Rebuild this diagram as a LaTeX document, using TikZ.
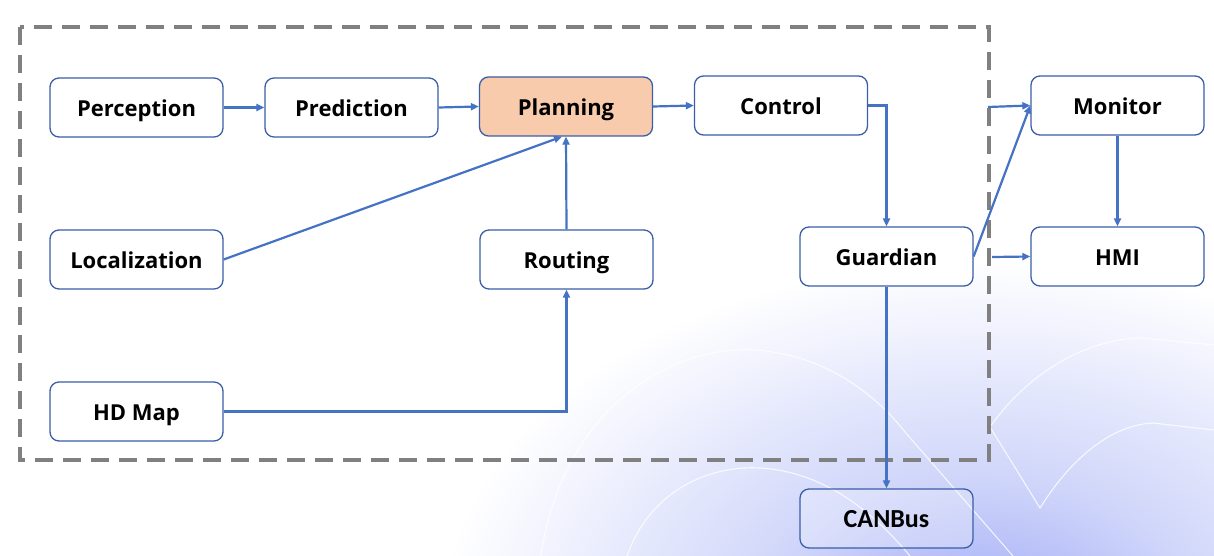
\documentclass[tikz,border=0pt]{standalone}
\usepackage{fontspec}
\setmainfont{Open Sans}
\newfontfamily\canfont{Carlito}
\usetikzlibrary{arrows.meta,calc}
\definecolor{arrowblue}{HTML}{4472C4}
\definecolor{boxblue}{HTML}{3A5EA8}
\definecolor{planfill}{HTML}{F8CBAD}
\definecolor{bgblue}{HTML}{A0ABF6}
\definecolor{bgmid}{HTML}{D0D6FA}
\definecolor{dashgray}{HTML}{808080}
\pgfdeclareradialshading{bgshade}{\pgfpoint{0bp}{0bp}}{color(0bp)=(bgblue); color(10bp)=(bgmid); color(25bp)=(white); color(50bp)=(white)}
\tikzset{
  module/.style={draw=boxblue, line width=1.3pt, fill=white, rounded corners=9pt,
    minimum width=173pt, minimum height=59pt, inner sep=0pt,
    text height=18pt, text depth=0pt,
    font=\fontsize{22}{25}\selectfont\bfseries, text=black},
  conn/.style={draw=arrowblue, line width=2.2pt, -{Triangle[length=8pt,width=7pt]}},
  deco/.style={draw=white, line width=1.1pt, opacity=0.8}
}
\begin{document}
\begin{tikzpicture}[x=1pt,y=-1pt]
\useasboundingbox (0,0) rectangle (1214,556);
\fill[white] (0,0) rectangle (1214,556);
\begin{scope}
  \clip (0,0) rectangle (1214,556);
  \shade[shading=bgshade] (980,620) ellipse [x radius=540, y radius=360];
  \draw[deco] (541,556) .. controls (560,420) and (660,345) .. (755,350) .. controls (830,355) and (880,400) .. (905,432) -- (1013,556);
  \draw[deco] (627,556) .. controls (650,490) and (710,465) .. (760,468) .. controls (830,472) and (880,520) .. (910,556);
  \draw[deco] (990,427) -- (1040,508) .. controls (1070,460) and (1110,425) .. (1153,423) -- (1214,430);
  \draw[deco] (990,427) .. controls (1030,370) and (1090,338) .. (1143,338) -- (1214,345);
\end{scope}

% dashed frame
\draw[dashgray, line width=4pt, dash pattern=on 18pt off 10pt] (20,27) rectangle (989,460);

% nodes
\node[module] (perc) at (136.5,107.5) {Perception};
\node[module] (pred) at (351.5,107.5) {Prediction};
\node[module, fill=planfill] (plan) at (566,106.5) {Planning};
\node[module] (ctrl) at (781,105.5) {Control};
\node[module] (mon) at (1117.5,105.5) {Monitor};
\node[module] (loc) at (136.5,259.5) {Localization};
\node[module] (rout) at (566.5,259.5) {Routing};
\node[module] (guard) at (886.5,256.5) {Guardian};
\node[module] (hmi) at (1117.5,256.5) {HMI};
\node[module] (hdmap) at (136.5,411.5) {HD Map};
\node[module, fill opacity=0.25, text opacity=1, draw opacity=1, font=\canfont\fontsize{26}{29}\selectfont\bfseries] (can) at (886.5,518.5) {CANBus};

\coordinate (monin) at (988,107);
\coordinate (hmiin) at (992,257);

% connectors
\draw[conn] (perc.east) -- (pred.west);
\draw[conn] (pred.east) -- (plan.west);
\draw[conn] (plan.east) -- (ctrl.west);
\draw[conn] (ctrl.east) -| (guard.north);
\draw[conn] (loc.east) -- ($(plan.south)+(-4,0)$);
\draw[conn] (rout.north) -- (plan.south);
\draw[conn] (hdmap.east) -| (rout.south);
\draw[conn] (guard.south) -- (can.north);
\draw[conn] (guard.east) -- (mon.west);
\draw[conn] (monin) -- (mon.west);
\draw[conn] (hmiin) -- (hmi.west);
\draw[conn] (mon.south) -- (hmi.north);
\end{tikzpicture}
\end{document}
